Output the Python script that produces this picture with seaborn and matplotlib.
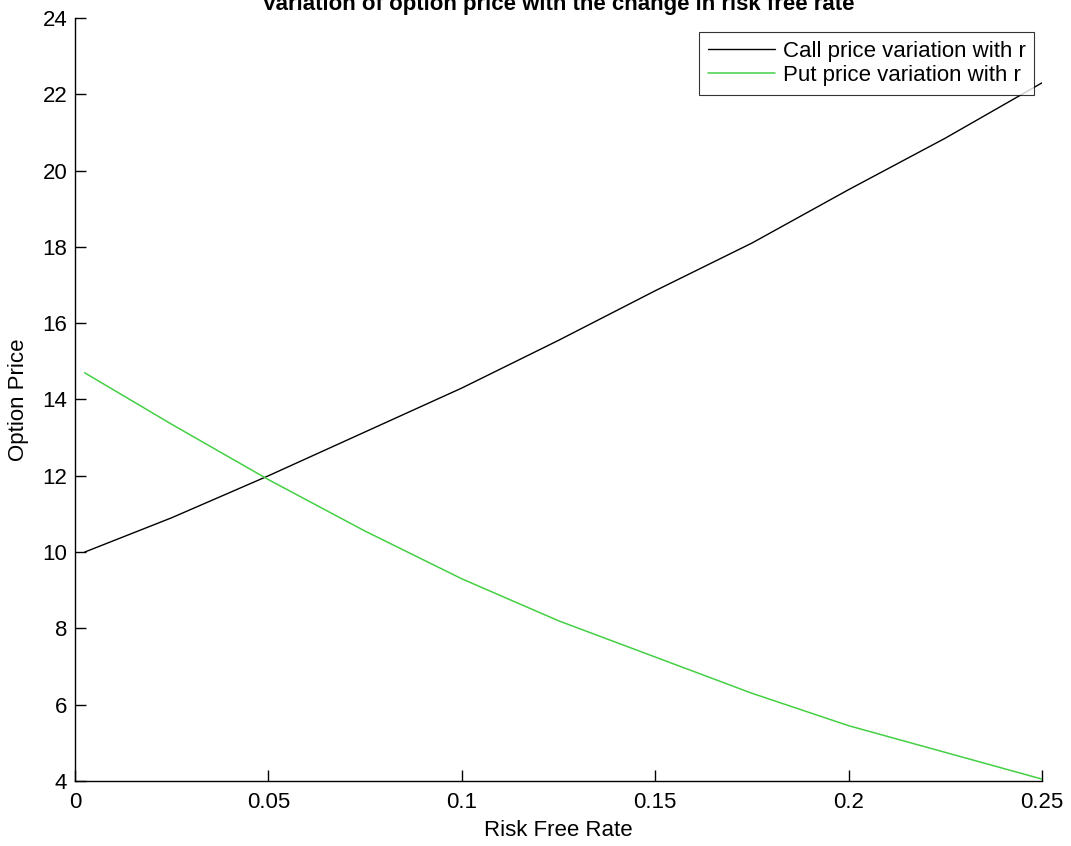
import numpy as np
import pandas as pd
import seaborn as sns
import matplotlib
matplotlib.use("Agg")
import matplotlib.pyplot as plt

# --- dati ---
risk_free = [0.0025, 0.025, 0.05, 0.075, 0.1, 0.125, 0.15, 0.175, 0.2, 0.225, 0.25]
call_price = [10.0, 10.9, 12.0, 13.15, 14.3, 15.55, 16.85, 18.1, 19.5, 20.85, 22.3]
put_price = [14.7, 13.35, 11.9, 10.55, 9.3, 8.2, 7.25, 6.3, 5.45, 4.75, 4.05]

x_ticks = [0, 0.05, 0.1, 0.15, 0.2, 0.25]
x_tick_labels = ["0", "0.05", "0.1", "0.15", "0.2", "0.25"]
y_ticks = list(range(4, 25, 2))

df = pd.DataFrame({"r": risk_free, "call": call_price, "put": put_price})

sns.set_style("white")
plt.rcParams["font.family"] = ["Liberation Sans", "DejaVu Sans"]
plt.rcParams["text.color"] = "black"
plt.rcParams["axes.labelcolor"] = "black"

fig = plt.figure(figsize=(10.71, 8.46), dpi=100)
ax = fig.add_axes([0.070, 0.0768, 0.903, 0.902])

sns.lineplot(data=df, x="r", y="call", ax=ax, color="black", linewidth=1.0,
             label="Call price variation with r")
sns.lineplot(data=df, x="r", y="put", ax=ax, color="#44d044", linewidth=1.1,
             label="Put price variation with r")

ax.set_xlim(0, 0.25)
ax.set_ylim(4, 24)
ax.set_xticks(x_ticks)
ax.set_xticklabels(x_tick_labels)
ax.set_yticks(y_ticks)
ax.tick_params(bottom=True, left=True, direction="in", length=8, width=1,
               colors="black", labelsize=16)
ax.tick_params(axis="x", pad=8)
ax.tick_params(axis="y", pad=5.5)

for side in ["top", "right"]:
    ax.spines[side].set_visible(False)
for side in ["left", "bottom"]:
    ax.spines[side].set_color("black")
    ax.spines[side].set_linewidth(1)

ax.set_xlabel("Risk Free Rate", fontsize=16, labelpad=5)
ax.set_ylabel("Option Price", fontsize=16, labelpad=10)

# titolo tagliato in alto come nell'originale
fig.text(0.521, 1 - 10 / 846, "Variation of option price with the change in risk free rate",
         ha="center", va="baseline", fontsize=16, fontweight="bold")

leg = ax.legend(loc="upper right", bbox_to_anchor=(0.992, 0.982), fontsize=16,
                frameon=True, fancybox=False, handlelength=3.0, handletextpad=0.35,
                borderpad=0.4, labelspacing=0.15, borderaxespad=0)
leg.get_frame().set_edgecolor("black")
leg.get_frame().set_linewidth(0.8)
for t in leg.get_texts():
    t.set_color("black")

fig.savefig("out.png", dpi=100)
